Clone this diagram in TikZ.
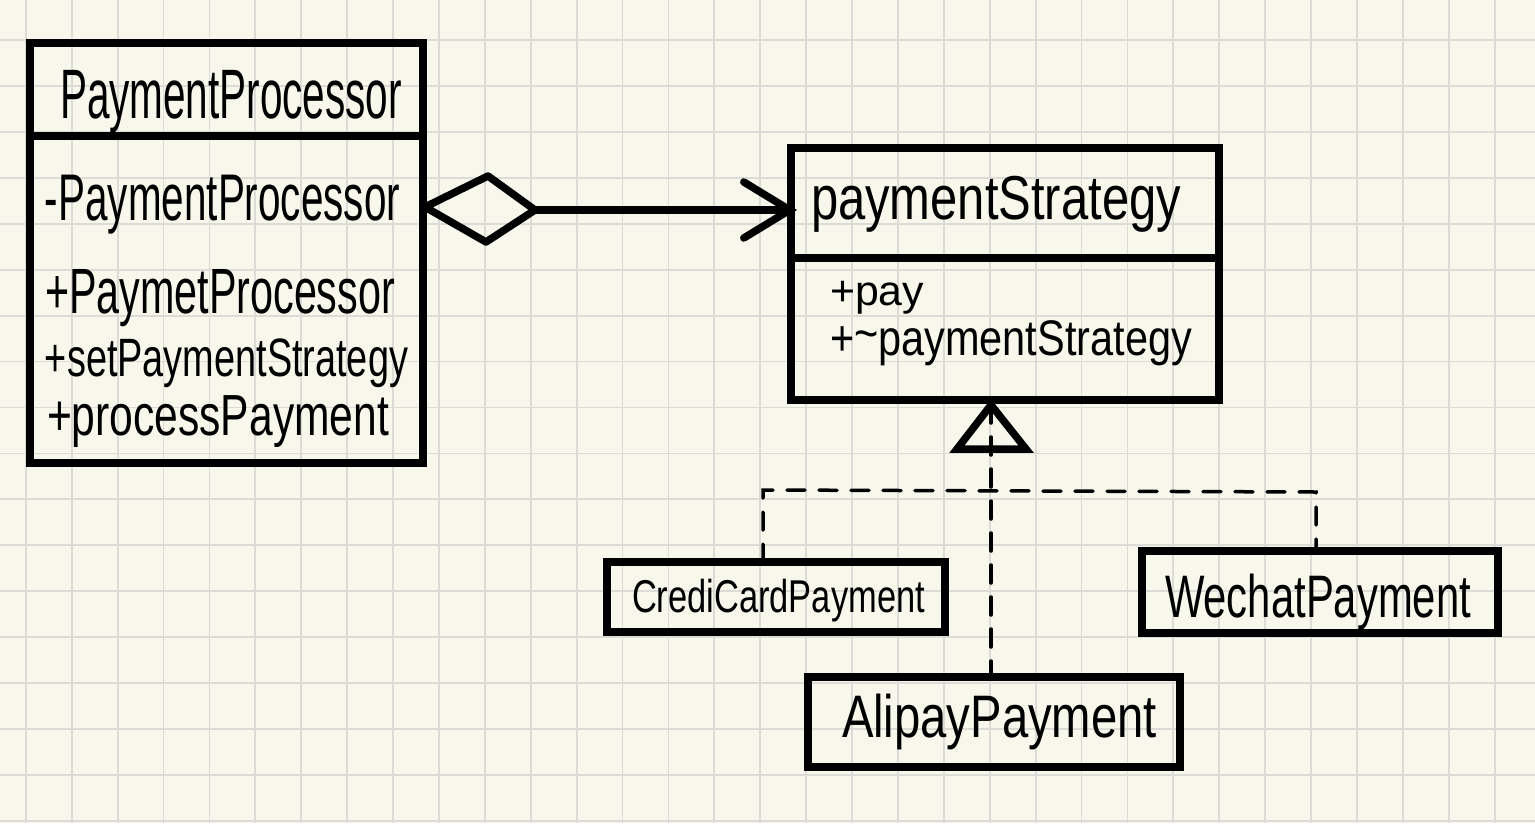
\documentclass[tikz,border=0pt]{standalone}
\usepackage{fontspec}
\usepackage{graphicx}
\setmainfont{Liberation Sans}
\newfontfamily\hwfont{Liberation Sans}
\usetikzlibrary{arrows.meta}
\definecolor{paper}{HTML}{F8F7EC}
\definecolor{gridc}{HTML}{DCDBD8}
\tikzset{
  umlbox/.style={draw=black, line width=8.5pt, inner sep=0pt, outer sep=0pt, fill=none},
  smallbox/.style={draw=black, line width=8pt, inner sep=0pt, outer sep=0pt},
  hw/.style={inner sep=0pt, outer sep=0pt, anchor=base west, font=\hwfont\fontsize{#1}{#1}\selectfont},
  umldash/.style={line width=3.5pt, dash pattern=on 18pt off 14pt, line cap=round},
  thick line/.style={line width=7.5pt, line join=round, line cap=round}
}
\newcommand{\hwfit}[2]{\resizebox{#1}{\height}{#2}}
\begin{document}
\begin{tikzpicture}[x=1pt,y=-1pt]
\useasboundingbox (0,0) rectangle (1535,823);
\fill[paper] (0,0) rectangle (1535,823);
\begin{scope}
\clip (0,0) rectangle (1535,823);
\foreach \i in {0,...,33} {\draw[gridc, line width=1.8pt] ({25.8+45.9*\i},0) -- ({25.8+45.9*\i},823);}
\foreach \j in {0,...,18} {\draw[gridc, line width=1.8pt] (0,{-5.9+45.93*\j}) -- (1535,{-5.9+45.93*\j});}
\end{scope}

% PaymentProcessor class
\node[umlbox, minimum width=393pt, minimum height=93pt] (ppT) at (226.5,89.5) {};
\node[umlbox, minimum width=393pt, minimum height=327pt] (ppB) at (226.5,299.5) {};
\node[hw=70] (ppTt) at (60,118) {\hwfit{342pt}{PaymentProcessor}};
\node[hw=66] (pp1) at (45,220) {\hwfit{355pt}{-PaymentProcessor}};
\node[hw=64] (pp2) at (45,313) {\hwfit{350pt}{+PaymetProcessor}};
\node[hw=54] (pp3) at (45,376) {\hwfit{363pt}{+setPaymentStrategy}};
\node[hw=58] (pp4) at (47,435) {\hwfit{342pt}{+processPayment}};

% paymentStrategy class
\node[umlbox, minimum width=428pt, minimum height=110pt] (psT) at (1005,203) {};
\node[umlbox, minimum width=428pt, minimum height=142pt] (psB) at (1005,329) {};
\node[hw=62] (psTt) at (811,219) {\hwfit{370pt}{paymentStrategy}};
\node[hw=42] (ps1) at (830,305) {\hwfit{94pt}{+pay}};
\node[hw=50] (ps2) at (830,355) {\hwfit{362pt}{+\raisebox{0.1em}{\char`\~}paymentStrategy}};

% implementations
\node[smallbox, minimum width=338pt, minimum height=70pt] (cc) at (776,597) {};
\node[hw=46] (cct) at (632,612) {\hwfit{293pt}{CrediCardPayment}};
\node[smallbox, minimum width=356pt, minimum height=82pt] (wc) at (1320,592) {};
\node[hw=60] (wct) at (1165,617) {\hwfit{306pt}{WechatPayment}};
\node[smallbox, minimum width=372pt, minimum height=90pt] (ali) at (994,722) {};
\node[hw=60] (alit) at (842,737) {\hwfit{315pt}{AlipayPayment}};

% aggregation
\coordinate (dL) at (425,207);
\coordinate (dT) at (488,176);
\coordinate (dR) at (535,210);
\coordinate (dB) at (486,242);
\draw[thick line] (dL) -- (dT) -- (dR) -- (dB) -- cycle;
\draw[line width=7.5pt, line cap=round, shorten <=-1pt, shorten >=-6pt,
      -{Straight Barb[length=46pt,width=56pt,line cap=round]}] (dR) -- (dR -| psT.west);

% realization
\coordinate (apex) at (991,405);
\coordinate (tL) at (957,449);
\coordinate (tR) at (1026,449);
\draw[umldash] (apex) -- (apex |- ali.north);
\draw[line width=7.5pt, line join=miter] (apex) -- (tL) -- (tR) -- cycle;
\coordinate (jL) at (763,490);
\coordinate (jR) at (1316,492);
\draw[umldash] (jL |- cc.north) -- (jL) -- (jR) -- (jR |- wc.north);
\end{tikzpicture}
\end{document}
